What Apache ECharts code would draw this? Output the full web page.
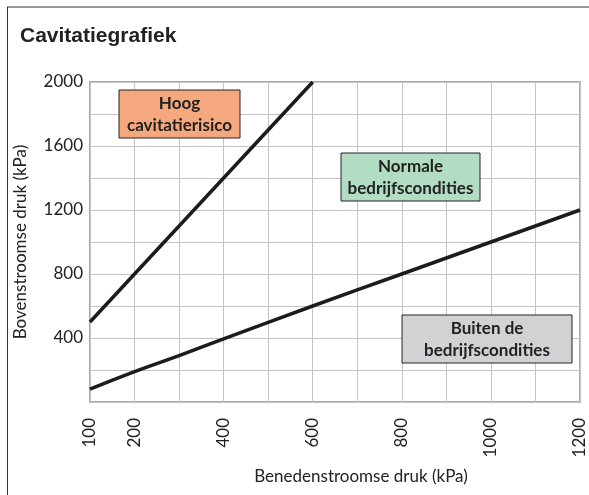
<!DOCTYPE html>
<html>
<head>
<meta charset="utf-8">
<script src="https://cdn.jsdelivr.net/npm/echarts@6/dist/echarts.min.js"></script>
<style>
  html, body { margin: 0; padding: 0; background: #fff; }
  #chart { width: 589px; height: 495px; }
</style>
</head>
<body>
<div id="chart"></div>
<script>
// gelezen uit de grafiek
var xLabelsShown = [100, 200, 400, 600, 800, 1000, 1200]
var yLabelsShown = [400, 800, 1200, 1600, 2000]
var cavitatieGrens = [[100, 500], [600, 2000]]
var bedrijfsGrens = [[100, 80], [200, 190], [300, 290], [400, 395], [600, 600], [800, 800], [1000, 1000], [1200, 1200]]
var zones = ['Hoog\ncavitatierisico', 'Normale\nbedrijfscondities', 'Buiten de\nbedrijfscondities']

var font = 'Lato'
var chart = echarts.init(document.getElementById('chart'))

function box(x, y, w, h, fill, text) {
  return [{
    type: 'rect',
    shape: { x: x, y: y, width: w, height: h },
    style: { fill: fill, stroke: '#222', lineWidth: 1 },
    z: 10
  }, {
    type: 'text',
    x: x + w / 2,
    y: y + h / 2 + 1,
    style: {
      text: text,
      fill: '#222',
      font: 'bold 17px ' + font,
      lineHeight: 22,
      align: 'center',
      verticalAlign: 'middle'
    },
    z: 11
  }]
}

chart.setOption({
  animation: false,
  title: {
    text: 'Cavitatiegrafiek',
    left: 15,
    top: 21,
    textStyle: { fontFamily: 'Liberation Sans', fontWeight: 'bold', fontSize: 21, color: '#222' }
  },
  grid: {
    left: 90, right: 9, top: 82, bottom: 93,
    show: true,
    borderColor: '#aaa',
    borderWidth: 2
  },
  xAxis: {
    type: 'value',
    min: 100,
    max: 1200,
    interval: 100,
    name: 'Benedenstroomse druk (kPa)',
    nameLocation: 'middle',
    nameGap: 66,
    nameTextStyle: { fontFamily: font, fontSize: 17, color: '#222', padding: [0, 0, 0, 52] },
    axisLine: { show: false },
    axisTick: { show: false },
    axisLabel: {
      rotate: 90,
      margin: 16,
      fontFamily: font,
      fontSize: 17,
      color: '#222',
      formatter: function (v) { return xLabelsShown.indexOf(v) >= 0 ? String(v) : '' }
    },
    splitLine: { show: true, lineStyle: { color: '#c4c4c4', width: 1 } }
  },
  yAxis: {
    type: 'value',
    min: 0,
    max: 2000,
    interval: 200,
    name: 'Bovenstroomse druk (kPa)',
    nameLocation: 'middle',
    nameGap: 61,
    nameTextStyle: { fontFamily: font, fontSize: 17, color: '#222' },
    axisLine: { show: false },
    axisTick: { show: false },
    axisLabel: {
      margin: 7,
      fontFamily: font,
      fontSize: 17,
      color: '#222',
      formatter: function (v) { return yLabelsShown.indexOf(v) >= 0 ? String(v) : '' }
    },
    splitLine: { show: true, lineStyle: { color: '#c4c4c4', width: 1 } }
  },
  series: [{
    type: 'line',
    data: cavitatieGrens,
    symbol: 'none',
    lineStyle: { color: '#1c1c1c', width: 3.5 }
  }, {
    type: 'line',
    data: bedrijfsGrens,
    smooth: true,
    symbol: 'none',
    lineStyle: { color: '#1c1c1c', width: 3.5 }
  }],
  graphic: [
    { type: 'line', shape: { x1: 7, y1: 7, x2: 589, y2: 7 }, style: { stroke: '#777', lineWidth: 1.5 } },
    { type: 'line', shape: { x1: 7.5, y1: 7, x2: 7.5, y2: 495 }, style: { stroke: '#333', lineWidth: 1 } }
  ].concat(
    box(119, 90, 121, 48, '#F5A77D', zones[0]),
    box(341, 153, 139, 48, '#B2DCC3', zones[1]),
    box(402, 315, 170, 48, '#D1D2D4', zones[2])
  )
})
</script>
</body>
</html>
